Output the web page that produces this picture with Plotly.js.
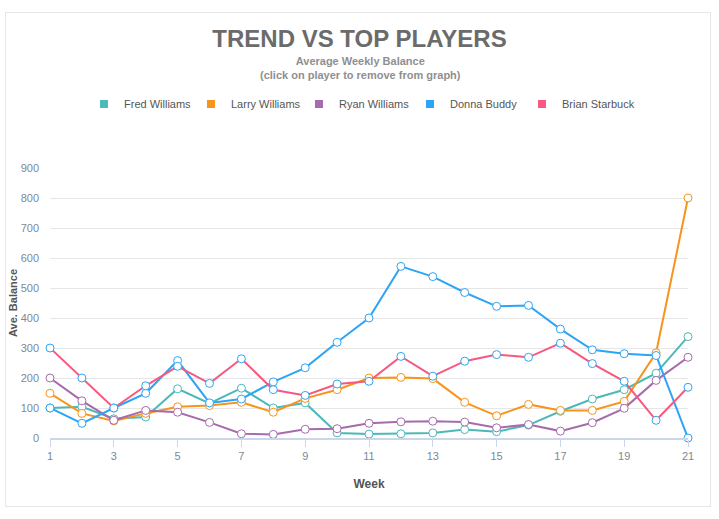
<!DOCTYPE html>
<html>
<head>
<meta charset="utf-8">
<script src="https://cdn.plot.ly/plotly-3.0.1.min.js"></script>
<style>
  html, body { margin: 0; padding: 0; background: #ffffff; }
  #frame { position: absolute; left: 5px; top: 12px; width: 706px; height: 495px; border: 1px solid #e6e6e6; box-sizing: border-box; }
  #chart { position: absolute; left: 0; top: 0; width: 719px; height: 519px; }
</style>
</head>
<body>
<div id="frame"></div>
<div id="chart"></div>
<script>
const weeks = [1,2,3,4,5,6,7,8,9,10,11,12,13,14,15,16,17,18,19,20,21];
const players = ["Fred Williams", "Larry Williams", "Ryan Williams", "Donna Buddy", "Brian Starbuck"];
const fredWilliams  = [100,104,64,70,164,115,166,100,117,17,13,14,17,28,21,43,89,130,161,216,338];
const larryWilliams = [149,82,57,82,104,108,119,86,132,161,200,202,198,119,74,112,92,92,122,284,800];
const ryanWilliams  = [200,124,59,92,86,52,14,12,29,31,49,54,56,53,34,45,23,51,99,192,269];
const donnaBuddy    = [100,49,100,149,258,117,130,187,234,319,400,572,538,485,439,442,363,294,281,275,0];
const brianStarbuck = [300,200,100,174,239,182,264,161,142,180,189,272,206,256,278,269,316,248,189,59,169];
const yTicks = [0,100,200,300,400,500,600,700,800,900];
const xTicks = [1,3,5,7,9,11,13,15,17,19,21];

const seriesValues = [fredWilliams, larryWilliams, ryanWilliams, donnaBuddy, brianStarbuck];
const lineColors = ["#4db8b9", "#f7941d", "#a66bad", "#2da4f5", "#f7587f"];
const markerEdge = ["#4db8b9", "#f7941d", "#a66bad", "#2da4f5", "#2da4f5"];
const legendItemWidths = [62, 63, 66, 67, 90];

const FONT = "Liberation Sans, Arial, sans-serif";
const traces = [];
players.forEach((name, i) => {
  traces.push({
    type: "scatter", mode: "lines+markers", name: name, legendgroup: name, showlegend: false,
    x: weeks, y: seriesValues[i],
    line: { color: lineColors[i], width: 2 },
    marker: { color: "#ffffff", size: 8, line: { color: markerEdge[i], width: 1 } },
    cliponaxis: false, hoverinfo: "x+y+name"
  });
});
players.forEach((name, i) => {
  traces.push({
    type: "scatter", mode: "markers", name: name, legendgroup: name, showlegend: true,
    legendwidth: legendItemWidths[i],
    x: [null], y: [null],
    marker: { color: lineColors[i], size: 8, symbol: "square" },
    hoverinfo: "skip"
  });
});

const layout = {
  width: 719, height: 519,
  paper_bgcolor: "rgba(0,0,0,0)", plot_bgcolor: "rgba(0,0,0,0)",
  margin: { l: 50, r: 31, t: 168, b: 81, pad: 0 },
  font: { family: FONT, color: "#666666", size: 11 },
  title: {
    text: "<b>TREND VS TOP PLAYERS</b>",
    font: { family: FONT, size: 24, color: "#6b6b6b" },
    x: 0.5, xref: "container", xanchor: "center",
    y: 1 - 39/519, yref: "container", yanchor: "middle"
  },
  annotations: [{
    text: "<b>Average Weekly Balance</b><br><b>(click on player to remove from graph)</b>",
    xref: "paper", yref: "paper", x: (360 - 50) / 638, y: (438 - 68) / 270,
    xanchor: "center", yanchor: "middle", showarrow: false, align: "center",
    font: { family: FONT, size: 11, color: "#8f8f8f" }
  }],
  showlegend: true,
  legend: {
    orientation: "h", x: (84 - 50) / 638, xanchor: "left", y: (438 - 104) / 270, yanchor: "middle",
    font: { family: FONT, size: 11, color: "#555555" },
    bgcolor: "rgba(0,0,0,0)", itemclick: "toggle"
  },
  xaxis: {
    range: [1, 21], tickvals: xTicks, ticktext: xTicks.map(String),
    showgrid: false, zeroline: false, showline: true, linecolor: "#ccd6eb", linewidth: 2,
    ticks: "outside", ticklen: 7, tickcolor: "#ccd6eb", tickwidth: 1,
    tickfont: { family: FONT, size: 11, color: "#7d8899" },
    title: { text: "<b>Week</b>", font: { family: FONT, size: 12, color: "#555555" }, standoff: 18 }
  },
  yaxis: {
    range: [0, 900], tickvals: yTicks, ticktext: yTicks.map(String),
    showgrid: true, gridcolor: "#e6e6e6", gridwidth: 1, zeroline: false, showline: false,
    ticks: "", ticklabelstandoff: 10,
    tickfont: { family: FONT, size: 11, color: "#7d8899" },
    title: { text: "<b>Ave. Balance</b>", font: { family: FONT, size: 11, color: "#555555" }, standoff: 0 }
  },
  hovermode: "closest"
};

Plotly.newPlot("chart", traces, layout, { displayModeBar: false, responsive: false });
</script>
</body>
</html>
